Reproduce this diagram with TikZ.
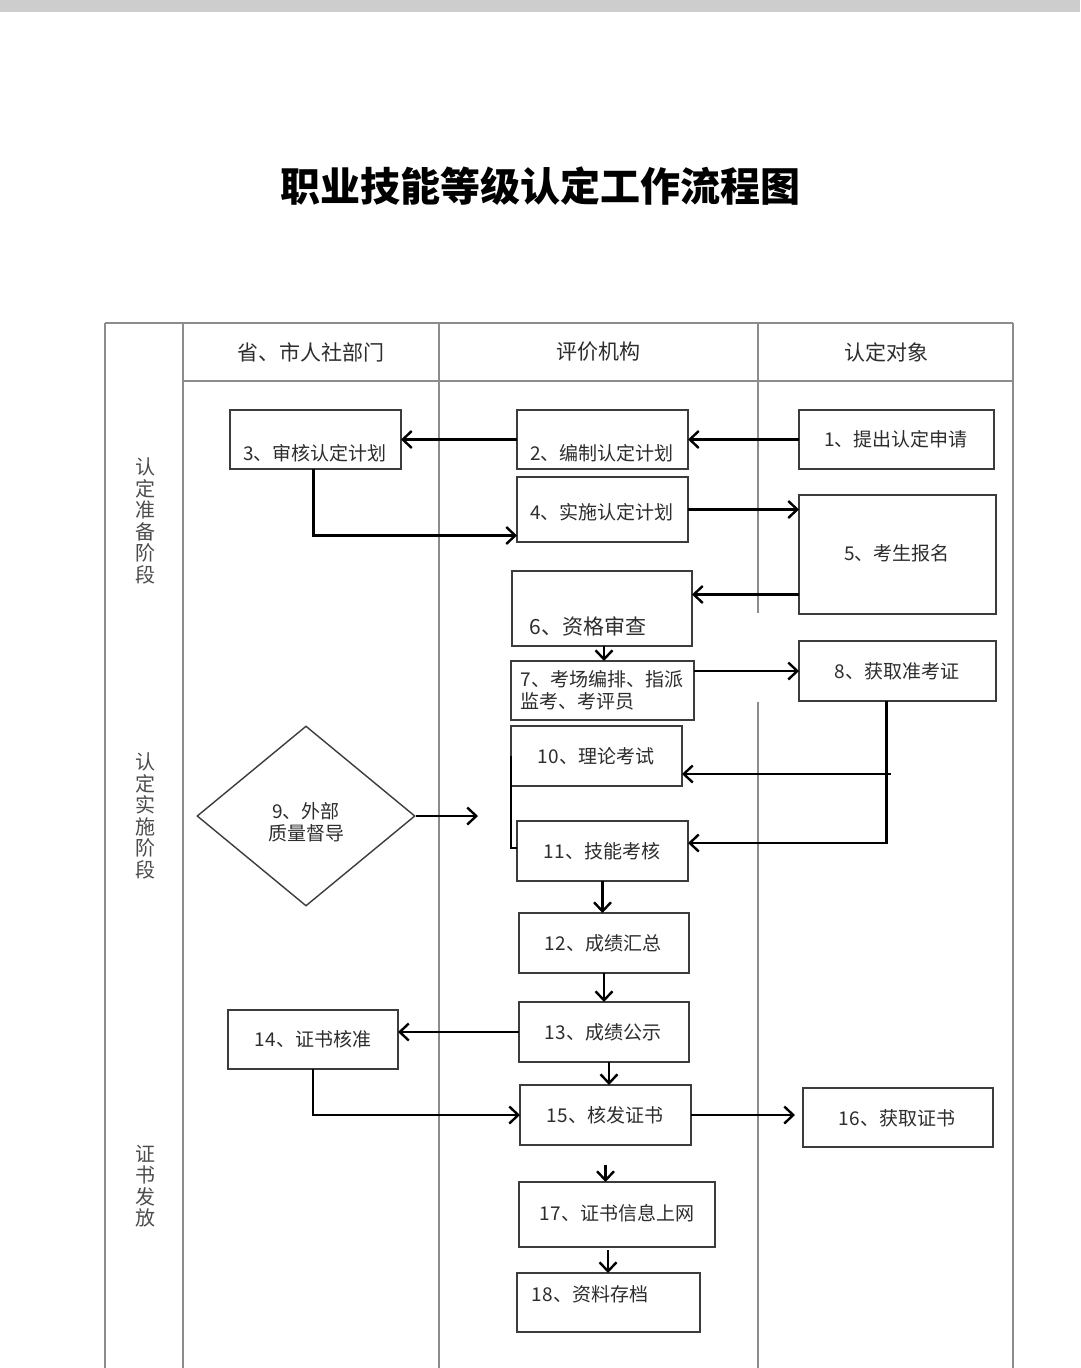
\documentclass[tikz,border=0pt]{standalone}
\usepackage{fontspec}
\usepackage{tikz}
\usetikzlibrary{positioning, shapes.geometric, arrows.meta}
\setmainfont{Noto Sans CJK SC}
\definecolor{laneColor}{RGB}{140,140,140}
\definecolor{boxColor}{RGB}{60,60,60}
\definecolor{textColor}{RGB}{45,45,45}
\definecolor{barColor}{RGB}{205,205,205}
\tikzstyle{chart} = [x = 1pt, y = -1pt]
\tikzstyle{laneLine} = [color=laneColor, line width=1.5pt]
\tikzstyle{stepBox} = [draw=boxColor, line width=1.4pt, fill=white, inner sep=0pt, outer sep=0pt]
\tikzstyle{stepText} = [text=textColor, font=\fontsize{19}{22}\selectfont, align=left, inner sep=0pt]
\tikzstyle{headText} = [text=textColor, font=\fontsize{21}{25}\selectfont]
\tikzstyle{stageText} = [text=textColor!85, font=\fontsize{20}{21.5}\selectfont, align=center]
\tikzstyle{flowArrow} = [line width=2.4pt, -{Straight Barb[length=9pt, width=17pt]}]
\tikzstyle{flowLine} = [line width=2.2pt]
\newcommand{\processStep}[8]{
  \node [stepBox, minimum width = #4 - #2, minimum height = #5 - #3] (#1) at ({(#2 + #4) / 2}, {(#3 + #5) / 2}) {};
  \node [stepText] (#1t) at (#6, #7) {#8};
}
\newcommand{\laneLine}[3]{\draw [laneLine] (#1, #2) -- (#1, #3);}

\begin{document}
\begin{tikzpicture}[chart]
  \useasboundingbox (0, 0) rectangle (1080, 1368);
  \fill [white] (0, 0) rectangle (1080, 1368);
  \fill [barColor] (0, 0) rectangle (1080, 12);

  % title
  \node [text=black, font=\fontsize{40}{44}\selectfont\bfseries] (title) at (540, 186) {职业技能等级认定工作流程图};

  % lanes
  \draw [laneLine] (105, 323) -- (1013, 323);
  \draw [laneLine] (183, 381) -- (1013, 381);
  \foreach \x in {105, 183, 439, 1013} {
    \laneLine{\x}{323}{1368}
  }
  \laneLine{758}{323}{613}
  \laneLine{758}{702}{1368}

  \node [headText] (headA) at (311, 352) {省、市人社部门};
  \node [headText] (headB) at (598, 352) {评价机构};
  \node [headText] (headC) at (886, 352) {认定对象};

  \node [stageText] (stageA) at (145, 521) {认\\定\\准\\备\\阶\\段};
  \node [stageText] (stageB) at (145, 816) {认\\定\\实\\施\\阶\\段};
  \node [stageText] (stageC) at (145, 1186) {证\\书\\发\\放};

  % steps
  \processStep{n1}{799}{410}{994}{469}{896}{439}{1、提出认定申请}
  \processStep{n2}{517}{410}{688}{469}{602}{453}{2、编制认定计划}
  \processStep{n3}{230}{410}{401}{469}{315}{453}{3、审核认定计划}
  \processStep{n4}{517}{477}{688}{542}{602}{512}{4、实施认定计划}
  \processStep{n5}{799}{495}{996}{614}{897}{553}{5、考生报名}
  \processStep{n6}{512}{571}{692}{646}{588}{626}{\fontsize{21}{24}\selectfont 6、资格审查}
  \processStep{n7}{511}{661}{694}{720}{602}{690}{7、考场编排、指派\\监考、考评员}
  \processStep{n8}{799}{641}{996}{701}{897}{671}{8、获取准考证}
  \processStep{n10}{511}{726}{682}{786}{596}{756}{10、理论考试}
  \processStep{n11}{517}{821}{688}{881}{602}{851}{11、技能考核}
  \processStep{n12}{519}{913}{689}{973}{603}{943}{12、成绩汇总}
  \processStep{n13}{519}{1002}{689}{1062}{603}{1032}{13、成绩公示}
  \processStep{n14}{228}{1010}{398}{1069}{313}{1039}{14、证书核准}
  \processStep{n15}{520}{1085}{691}{1145}{605}{1115}{15、核发证书}
  \processStep{n16}{803}{1088}{993}{1147}{897}{1118}{16、获取证书}
  \processStep{n17}{519}{1182}{715}{1247}{617}{1213}{17、证书信息上网}
  \processStep{n18}{517}{1273}{700}{1332}{590}{1294}{18、资料存档}

  \node [diamond, draw=boxColor, line width=1.4pt, fill=white, inner sep=0pt,
         minimum width=218pt, minimum height=180pt] (n9) at (306, 816) {};
  \node [stepText, align=center] (n9t) at (306, 822) {9、外部\\质量督导};

  % arrows
  \draw [flowArrow] (n1.west) -- (n2.east);
  \draw [flowArrow] (n2.west) -- (n3.east);
  \draw [flowArrow] ([xshift=-2pt]n3.south) |- ([yshift=-26pt]n4.west);
  \draw [flowArrow] (n4.east) -- (n4.east -| n5.west);
  \coordinate (a5) at ([yshift=-40pt]n5.west);
  \draw [flowArrow] (a5) -- (a5 -| n6.east);
  \draw [flowArrow] ([xshift=2pt]n6.south) -- ([xshift=2pt]n6.south |- n7.north);
  \draw [flowArrow] (n8.west -| n7.east) -- (n8.west);
  \coordinate (c8) at ([xshift=-11pt]n8.south);
  \draw [flowArrow] (c8) |- ([yshift=8pt]n11.east);
  \draw [flowArrow] ([xshift=4pt]c8 |- 774, 774) -- (n10.east |- 774, 774);
  \draw [flowLine] (n10.west) |- ([yshift=3pt]n11.west);
  \coordinate (a9) at (478, 816);
  \draw [flowArrow] (n9.east) -- (a9);
  \draw [flowArrow] (n11.south) -- (n11.south |- n12.north);
  \draw [flowArrow] (n12.south) -- (n13.north);
  \draw [flowArrow] (n13.west) -- (n13.west -| n14.east);
  \draw [flowArrow] ([xshift=5pt]n13.south) -- ([xshift=5pt]n13.south |- n15.north);
  \draw [flowArrow] (n14.south) |- (n15.west);
  \draw [flowArrow] (n15.east) -- ([xshift=-8pt]n15.east -| n16.west);
  \draw [flowArrow, shorten <= 20pt] (n15.south) -- (n15.south |- n17.north);
  \draw [flowArrow, shorten <= 3pt] ([xshift=-9pt]n17.south) -- ([xshift=-9pt]n17.south |- n18.north);
\end{tikzpicture}
\end{document}
